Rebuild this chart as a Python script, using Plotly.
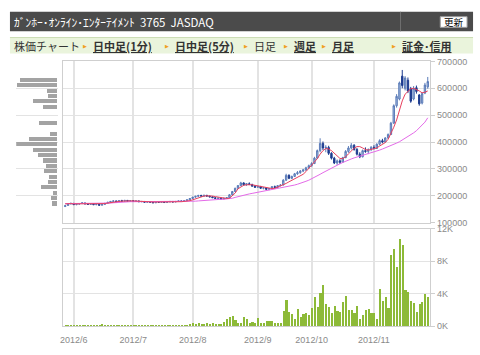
import plotly.graph_objects as go
import numpy as np

W, H = 480, 355

trading_days = {
    "2012-05": [29, 30, 31],
    "2012-06": [1, 4, 5, 6, 7, 8, 11, 12, 13, 14, 15, 18, 19, 20, 21, 22, 25, 26, 27, 28, 29],
    "2012-07": [2, 3, 4, 5, 6, 9, 10, 11, 12, 13, 17, 18, 19, 20, 23, 24, 25, 26, 27, 30, 31],
    "2012-08": [1, 2, 3, 6, 7, 8, 9, 10, 13, 14, 15, 16, 17, 20, 21, 22, 23, 24, 27, 28, 29, 30, 31],
    "2012-09": [3, 4, 5, 6, 7, 10, 11, 12, 13, 14, 18, 19, 20, 21, 24, 25, 26, 27, 28],
    "2012-10": [1, 2, 3, 4, 5, 9, 10, 11, 12, 15, 16, 17, 18, 19, 22, 23, 24, 25, 26, 29, 30, 31],
    "2012-11": [1, 2, 5, 6, 7, 8, 9, 12, 13, 14, 15, 16, 19, 20, 21, 22, 26, 27, 28, 29],
}
dates = [f"{ym}-{d:02d}" for ym, days in trading_days.items() for d in days]

open_k = [160,164,170,172,167,169,171,173,170,168,170,167,169,165,168,
          172,176,179,181,178,182,180,183,180,182,179,181,178,179,176,
          178,176,174,177,176,177,175,177,179,177,179,181,179,182,185,
          190,195,198,201,199,202,199,196,193,190,192,188,191,193,204,
          216,228,238,248,241,245,242,236,232,235,228,230,224,227,234,
          231,238,240,258,276,265,272,282,286,292,296,304,312,320,340,
          368,395,378,380,358,340,322,330,325,342,365,378,388,372,355,
          345,368,365,372,380,376,392,405,400,415,428,470,535,560,645,
          600,630,598,560,602,575,545,582,605]
high_k = [166,172,174,173,170,172,175,175,172,171,171,170,170,169,173,
          177,180,183,182,183,185,184,184,183,183,182,182,180,180,179,
          179,178,178,179,178,178,178,180,180,180,182,182,183,186,191,
          196,200,204,204,203,203,200,198,195,193,193,192,195,206,218,
          230,240,252,250,247,250,245,240,237,236,232,232,229,236,238,
          240,243,262,282,280,275,285,292,296,300,308,316,325,345,372,
          414,402,388,386,362,345,335,336,345,370,385,396,392,378,362,
          372,380,376,385,388,395,410,412,418,432,475,540,578,625,668,
          645,640,605,608,610,578,585,620,642]
low_k = [159,163,168,166,165,167,170,169,167,166,166,165,164,164,167,
         171,174,177,177,177,179,179,179,178,178,177,177,176,175,175,
         175,173,173,175,174,174,174,176,176,176,178,178,178,181,184,
         189,193,196,197,197,198,195,192,189,188,187,187,189,192,203,
         214,226,236,238,237,240,234,230,229,226,224,222,221,226,228,
         230,235,239,256,262,262,270,278,282,288,293,300,308,318,338,
         362,370,362,352,335,318,315,318,322,340,360,372,368,350,340,
         343,360,355,366,372,375,388,395,398,412,426,468,528,555,600,
         592,582,546,555,580,535,540,578,598]
close_k = [163,170,172,167,169,171,174,170,168,170,167,169,165,168,172,
           176,179,181,178,182,180,183,180,182,179,181,178,179,176,178,
           176,174,177,176,177,175,177,179,177,179,181,179,182,185,190,
           195,198,201,199,202,199,196,193,190,192,188,191,193,204,216,
           228,238,248,241,245,242,236,232,235,228,230,224,227,234,231,
           238,240,258,276,265,272,282,286,292,296,304,312,320,340,368,
           395,378,380,358,340,322,330,325,342,365,378,388,372,355,345,
           368,365,372,380,376,392,405,400,415,428,470,535,570,620,610,
           638,590,552,600,588,542,580,612,625]

ma_short_k = [170,171,171,170,170,170,171,171,171,170,170,170,169,170,171,
              173,175,177,178,179,180,181,181,181,181,180,180,179,178,178,
              177,177,177,177,177,177,176,177,177,177,178,178,179,180,182,
              185,189,193,196,199,200,200,199,197,195,193,191,190,191,200,
              210,226,234,239,241,242,241,239,237,235,233,230,228,227,228,
              232,236,240,246,252,258,264,270,275,280,290,302,312,325,338,
              355,368,376,374,368,358,347,339,338,345,356,368,377,383,383,
              378,372,370,372,374,378,385,392,398,410,430,455,482,520,553,
              578,590,598,600,596,590,583,585,590]
ma_long_k = [171,171,171,171,171,171,171,171,171,171,171,171,171,171,172,
             172,173,174,175,176,177,177,178,178,178,178,178,178,
             178,178,178,178,178,178,178,178,178,178,178,178,178,179,179,179,179,
             180,180,181,182,183,183,184,185,185,186,187,187,188,189,
             191,194,197,200,203,205,207,209,211,213,215,217,219,220,222,
             224,226,228,230,232,235,237,240,243,246,250,254,258,263,268,
             274,280,286,292,298,
             304,309,314,319,324,329,333,337,341,344,
             347,350,353,356,359,362,366,370,374,378,382,386,390,396,401,
             407,413,420,427,434,442,452,462,474,490]

volume_k = [0.12,0.15,0.22,0.2,0.12,0.1,0.12,0.1,0.12,0.2,0.12,0.15,0.25,0.3,0.2,
            0.25,0.12,0.1,0.12,0.1,0.1,0.12,0.1,0.1,0.1,0.12,0.1,0.1,0.1,0.12,
            0.1,0.1,0.2,0.12,0.1,0.1,0.1,0.1,0.12,0.12,0.2,0.12,0.1,0.15,0.3,
            0.4,0.35,0.5,0.35,0.35,0.4,0.3,0.45,0.35,0.35,0.3,0.6,1.0,1.2,1.3,
            0.8,0.5,0.4,1.2,0.9,0.5,0.6,0.4,1.1,0.5,0.4,0.7,0.7,0.7,0.4,
            0.4,0.4,1.9,3.3,1.8,1.6,0.9,2.2,1.2,1.5,1.7,1.4,2.3,3.7,2.4,
            4.1,5.1,2.8,2.4,1.7,2.6,1.9,1.8,3.0,3.8,2.1,2.0,1.7,2.5,1.0,
            1.4,2.1,2.2,1.7,1.7,0.9,4.6,3.2,3.6,2.25,8.8,9.6,7.3,10.8,10.0,
            4.5,4.2,3.2,2.9,1.8,2.8,3.0,4.0,3.7]

profile_price_k = [630,610,590,570,550,530,510,490,470,450,430,410,390,370,350,330,310,290,270,250,230,210,190,170]
profile_volume = [45,49,12,11,30,18,0,0,22,0,9,34,50,30,23,17,14,16,10,11,20,5,8,6]

month_ticks = ["2012-06-01", "2012-07-02", "2012-08-01", "2012-09-03", "2012-10-01", "2012-11-01"]
month_labels = ["2012/6", "2012/7", "2012/8", "2012/9", "2012/10", "2012/11"]

for arr in (open_k, high_k, low_k, close_k, ma_short_k, ma_long_k, volume_k):
    assert len(arr) == len(dates), len(arr)

K = 1000
fig = go.Figure()

fig.add_trace(go.Bar(
    x=profile_volume, y=np.array(profile_price_k) * K, orientation="h",
    xaxis="x3", yaxis="y", width=15000,
    marker=dict(color="#a3a3a3", line=dict(width=0)), hoverinfo="skip", showlegend=False))

fig.add_trace(go.Candlestick(
    x=dates, open=np.array(open_k) * K, high=np.array(high_k) * K,
    low=np.array(low_k) * K, close=np.array(close_k) * K,
    xaxis="x", yaxis="y", whiskerwidth=0,
    increasing=dict(line=dict(color="#5a7bb8", width=1), fillcolor="#a9bedf"),
    decreasing=dict(line=dict(color="#1d3b8f", width=1), fillcolor="#1d3b8f"),
    showlegend=False))

fig.add_trace(go.Scatter(x=dates, y=np.array(ma_long_k) * K, mode="lines",
                         line=dict(color="#e46ae8", width=1), xaxis="x", yaxis="y", showlegend=False))
fig.add_trace(go.Scatter(x=dates, y=np.array(ma_short_k) * K, mode="lines",
                         line=dict(color="#e8405e", width=1), xaxis="x", yaxis="y", showlegend=False))

fig.add_trace(go.Bar(x=dates, y=volume_k, xaxis="x2", yaxis="y2", width=0.72,
                     marker=dict(color="#8dba38", line=dict(width=0)), showlegend=False))

def px_x(p):
    return p / W

def px_y(p):
    return 1 - p / H

grid = "#e3e3e3"
border = "#cfcfcf"
tickfont = dict(family="Liberation Sans, Arial", size=9, color="#8a8a8a")
xr = [-0.9, len(dates) - 0.1]

fig.update_layout(
    width=W, height=H, margin=dict(l=0, r=0, t=0, b=0),
    paper_bgcolor="white", plot_bgcolor="white",
    bargap=0, showlegend=False,
    xaxis=dict(domain=[px_x(60), px_x(430)], anchor="y", type="category",
               range=xr, tickvals=month_ticks, ticktext=month_labels, showticklabels=False,
               showgrid=True, gridcolor=grid, gridwidth=2, showline=True, mirror=True,
               linecolor=border, linewidth=1, rangeslider=dict(visible=False), ticks=""),
    yaxis=dict(domain=[px_y(224), px_y(58)], anchor="x", side="right", range=[100000, 700000],
               dtick=100000, tickformat="d", showgrid=True, gridcolor=grid, gridwidth=1,
               ticks="outside", ticklen=4, tickcolor=border, tickfont=tickfont,
               showline=True, mirror=True, linecolor=border, zeroline=False),
    xaxis2=dict(domain=[px_x(60), px_x(430)], anchor="y2", type="category", matches="x",
                range=xr, tickvals=month_ticks, ticktext=month_labels, showticklabels=True,
                tickfont=tickfont, showgrid=True, gridcolor=grid, gridwidth=2, showline=True,
                mirror=True, linecolor=border, ticks="outside", ticklen=5,
                tickcolor="rgba(0,0,0,0)"),
    yaxis2=dict(domain=[px_y(330.5), px_y(230)], anchor="x2", side="right", range=[0, 12],
                tickvals=[0, 4, 8, 12], ticktext=["0K", "4K", "8K", "12K"],
                showgrid=True, gridcolor=grid, ticks="outside", ticklen=4, tickcolor=border,
                tickfont=tickfont, showline=True, mirror=True, linecolor=border, zeroline=False),
    xaxis3=dict(domain=[px_x(13.3), px_x(55)], anchor="y", range=[50, 0], visible=False),
)

shapes = []
annots = []
# header bar
shapes.append(dict(type="rect", xref="paper", yref="paper", x0=px_x(7), x1=px_x(473),
                   y0=px_y(27), y1=px_y(7), fillcolor="#4b4b4b", line=dict(width=0), layer="below"))
shapes.append(dict(type="line", xref="paper", yref="paper", x0=px_x(400), x1=px_x(400),
                   y0=px_y(27), y1=px_y(7), line=dict(color="#6e6e6e", width=1)))
shapes.append(dict(type="rect", xref="paper", yref="paper", x0=px_x(440), x1=px_x(467),
                   y0=px_y(23), y1=px_y(12), fillcolor="#ffffff", line=dict(color="#9a9a9a", width=1)))
annots.append(dict(text="ｶﾞﾝﾎｰ･ｵﾝﾗｲﾝ･ｴﾝﾀｰﾃｲﾒﾝﾄ  3765  JASDAQ", x=px_x(9), y=px_y(17),
                   xref="paper", yref="paper", xanchor="left", yanchor="middle", showarrow=False,
                   font=dict(family="Noto Sans CJK JP", size=11.5, color="#ffffff")))
annots.append(dict(text="更新", x=px_x(453.5), y=px_y(17.5), xref="paper", yref="paper",
                   xanchor="center", yanchor="middle", showarrow=False,
                   font=dict(family="Noto Sans CJK JP", size=9.5, color="#000000")))
# tab bar
shapes.append(dict(type="rect", xref="paper", yref="paper", x0=px_x(7), x1=px_x(473),
                   y0=px_y(50), y1=px_y(33), fillcolor="#eaf4dc", line=dict(width=0), layer="below"))
shapes.append(dict(type="line", xref="paper", yref="paper", x0=px_x(7), x1=px_x(473),
                   y0=px_y(33.5), y1=px_y(33.5), line=dict(color="#cbdcb3", width=1)))
tabfont = dict(family="Noto Sans CJK JP", size=11, color="#333333")
annots.append(dict(text="株価チャート", x=px_x(9), y=px_y(42), xref="paper", yref="paper",
                   xanchor="left", yanchor="middle", showarrow=False, font=tabfont))
tabs = [("日中足(1分)", 83, True), ("日中足(5分)", 165, True), ("日足", 245, False),
        ("週足", 285, True), ("月足", 323, True), ("証金･信用", 393, True)]
for label, ax, link in tabs:
    annots.append(dict(text="▶", x=px_x(ax), y=px_y(42), xref="paper", yref="paper",
                       xanchor="center", yanchor="middle", showarrow=False,
                       font=dict(family="DejaVu Sans", size=5, color="#f0a020")))
    txt = f"<b><span style='text-decoration:underline'>{label}</span></b>" if link else label
    annots.append(dict(text=txt, x=px_x(ax + 6), y=px_y(42), xref="paper", yref="paper",
                       xanchor="left", yanchor="middle", showarrow=False, font=tabfont))

fig.update_layout(shapes=shapes, annotations=annots)
fig.write_html("out.html")
